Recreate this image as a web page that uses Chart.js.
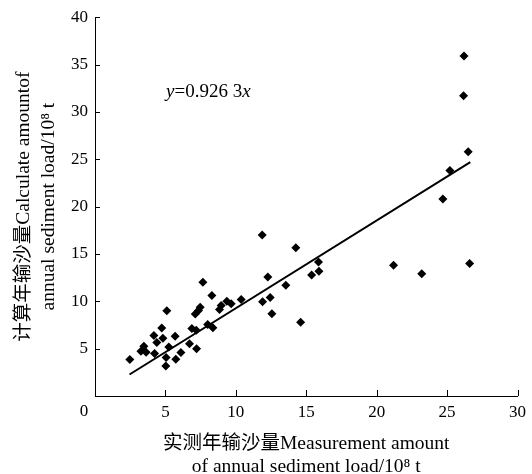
<!DOCTYPE html>
<html>
<head>
<meta charset="utf-8">
<script src="https://cdn.jsdelivr.net/npm/chart.js@4/dist/chart.umd.min.js"></script>
<style>
  html, body { margin: 0; padding: 0; background: #fff; }
  #wrap { width: 532px; height: 474px; }
</style>
</head>
<body>
<div id="wrap"><canvas id="myScatter" width="532" height="474"></canvas></div>
<script>
// measured annual sediment load (x) vs calculated (y), 10^8 t
var measured = [26.2, 26.17, 26.5, 25.2, 24.7, 26.6, 21.2, 23.2, 11.87, 14.26,
    15.87, 15.9, 15.38, 12.27, 13.55, 12.44, 11.9, 12.56, 14.6, 10.38,
    9.67, 9.36, 8.96, 8.84, 8.3, 7.66, 7.47, 7.35, 7.12, 8.0,
    8.37, 6.88, 7.19, 6.71, 7.21, 5.1, 4.74, 4.18, 4.82, 4.39,
    5.69, 5.24, 3.47, 3.26, 3.63, 4.23, 6.1, 5.74, 5.05, 5.03, 2.47];
var calculated = [35.9, 31.7, 25.8, 23.8, 20.8, 14.0, 13.8, 12.9, 17.0, 15.65,
    14.15, 13.16, 12.78, 12.57, 11.7, 10.4, 9.94, 8.68, 7.8, 10.19,
    9.73, 10.0, 9.56, 9.14, 10.6, 12.0, 9.38, 9.03, 8.65, 7.56,
    7.21, 7.14, 6.93, 5.53, 5.0, 9.0, 7.17, 6.4, 6.09, 5.64,
    6.3, 5.18, 5.25, 4.73, 4.62, 4.48, 4.59, 3.89, 4.06, 3.18, 3.85];

// fitted line y = 0.926 3x, end points
var fitX = [2.45, 26.65];
var fitY = [2.27, 24.69];

var xTicks = [0, 5, 10, 15, 20, 25, 30];
var yTicks = [0, 5, 10, 15, 20, 25, 30, 35, 40];

var serif = "'Liberation Serif', 'Noto Sans CJK SC', serif";

setTimeout(() => {
    var ctx = document.getElementById("myScatter").getContext("2d");

    var points = measured.map(function (v, i) { return { x: v, y: calculated[i] }; });
    var fitLine = fitX.map(function (v, i) { return { x: v, y: fitY[i] }; });

    // inward tick marks, the shared "0" and the equation label
    var extras = {
        id: "extras",
        afterDraw: function (chart) {
            var c = chart.ctx;
            var xs = chart.scales.x, ys = chart.scales.y;
            var area = chart.chartArea;
            c.save();
            c.strokeStyle = "#000";
            c.lineWidth = 1;
            c.beginPath();
            xTicks.forEach(function (t) {
                if (t === 0) return;
                var px = Math.round(xs.getPixelForValue(t)) + 0.5;
                c.moveTo(px, area.bottom);
                c.lineTo(px, area.bottom - 6);
            });
            yTicks.forEach(function (t) {
                if (t === 0) return;
                var py = Math.round(ys.getPixelForValue(t)) + 0.5;
                c.moveTo(area.left, py);
                c.lineTo(area.left + 5, py);
            });
            c.stroke();

            c.fillStyle = "#000";
            c.font = "17px " + serif;
            c.textAlign = "center";
            c.textBaseline = "middle";
            c.fillText("0", area.left - 11, area.bottom + 16);

            // y=0.926 3x
            var tx = xs.getPixelForValue(5.05);
            var ty = ys.getPixelForValue(32.1);
            c.textAlign = "left";
            var parts = [["y", "italic"], ["=0.926 3", "normal"], ["x", "italic"]];
            parts.forEach(function (p) {
                c.font = p[1] + " 19px " + serif;
                c.fillText(p[0], tx, ty);
                tx += c.measureText(p[0]).width;
            });
            c.restore();
        },
    };

    new Chart(ctx, {
        type: "scatter",
        data: {
            datasets: [
                {
                    label: "points",
                    data: points,
                    pointStyle: "rectRot",
                    pointRadius: 4.5,
                    borderWidth: 0,
                    backgroundColor: "#000",
                    borderColor: "#000",
                },
                {
                    label: "fit",
                    data: fitLine,
                    showLine: true,
                    pointRadius: 0,
                    borderColor: "#000",
                    borderWidth: 2,
                },
            ],
        },
        options: {
            responsive: false,
            animation: false,
            layout: {
                padding: { left: 0, right: 14, top: 15, bottom: 0 },
            },
            plugins: {
                legend: { display: false },
                tooltip: { enabled: false },
            },
            scales: {
                x: {
                    type: "linear",
                    min: 0,
                    max: 30,
                    afterBuildTicks: function (scale) {
                        scale.ticks = xTicks.map(function (v) { return { value: v }; });
                    },
                    afterFit: function (scale) {
                        scale.height = 78;
                    },
                    ticks: {
                        color: "#000",
                        padding: 6,
                        font: { family: serif, size: 17 },
                        callback: function (value) {
                            return value === 0 ? "" : value;
                        },
                    },
                    grid: { display: false, drawTicks: false },
                    border: { display: true, color: "#000", width: 1 },
                    title: {
                        display: true,
                        text: ["实测年输沙量Measurement amount", "of annual sediment load/10⁸ t"],
                        color: "#000",
                        font: { family: serif, size: 19.5, lineHeight: 1.18 },
                        padding: { top: 0, bottom: -4 },
                    },
                },
                y: {
                    type: "linear",
                    min: 0,
                    max: 40,
                    afterBuildTicks: function (scale) {
                        scale.ticks = yTicks.map(function (v) { return { value: v }; });
                    },
                    afterFit: function (scale) {
                        scale.width = 95;
                    },
                    ticks: {
                        color: "#000",
                        padding: 7,
                        font: { family: serif, size: 17 },
                        callback: function (value) {
                            return value === 0 ? "" : value;
                        },
                    },
                    grid: { display: false, drawTicks: false },
                    border: { display: true, color: "#000", width: 1 },
                    title: {
                        display: true,
                        text: ["计算年输沙量Calculate amountof", "annual sediment load/10⁸ t"],
                        color: "#000",
                        font: { family: serif, size: 19.5, lineHeight: 1.28 },
                        padding: { top: 11, bottom: 0 },
                    },
                },
            },
        },
        plugins: [extras],
    });
}, 100);
</script>
</body>
</html>
